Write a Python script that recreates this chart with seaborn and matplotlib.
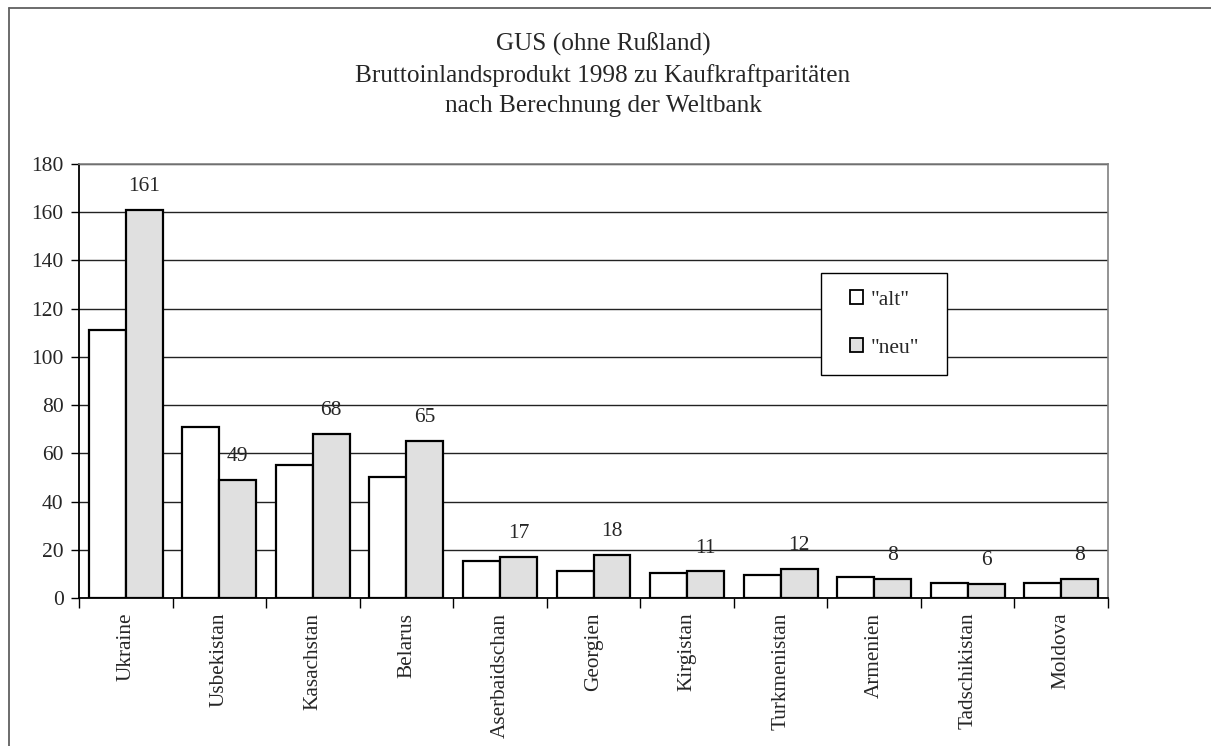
import matplotlib
matplotlib.use("Agg")
import matplotlib.pyplot as plt
import seaborn as sns
import pandas as pd
import numpy as np
from matplotlib.lines import Line2D
from matplotlib.patches import Patch, Rectangle

countries = ["Ukraine", "Usbekistan", "Kasachstan", "Belarus", "Aserbaidschan",
             "Georgien", "Kirgistan", "Turkmenistan", "Armenien", "Tadschikistan", "Moldova"]
alt = [111, 71, 55, 50, 15.3, 11.3, 10.4, 9.5, 8.7, 6.4, 6.4]
neu = [161, 49, 68, 65, 17, 18, 11, 12, 8, 6, 8]
neu_labels = ["161", "49", "68", "65", "17", "18", "11", "12", "8", "6", "8"]
series = ['"alt"', '"neu"']
yticks = [0, 20, 40, 60, 80, 100, 120, 140, 160, 180]
title = "GUS (ohne Rußland)\nBruttoinlandsprodukt 1998 zu Kaufkraftparitäten\nnach Berechnung der Weltbank"

df = pd.DataFrame({
    "Land": countries * 2,
    "Serie": [series[0]] * len(countries) + [series[1]] * len(countries),
    "Wert": alt + neu,
})

sns.set_style("white")
plt.rcParams["font.family"] = ["Liberation Serif", "DejaVu Serif"]

fig = plt.figure(figsize=(12.11, 7.46), dpi=100)
ax = fig.add_axes([79 / 1211, 1 - 598 / 746, (1108 - 79) / 1211, (598 - 164) / 746])

sns.barplot(data=df, x="Land", y="Wert", hue="Serie", order=countries, hue_order=series,
            palette=["white", "#e0e0e0"], edgecolor="black", linewidth=1.6,
            width=0.79, ax=ax, legend=False, saturation=1, zorder=3)

ax.set_ylim(0, 180)
ax.set_xlim(-0.5, len(countries) - 0.5)
ax.set_yticks(yticks)
ax.set_yticklabels([str(v) for v in yticks], fontsize=15.5)
ax.tick_params(axis="y", length=6, width=1, color="black", direction="out", pad=5, left=True)
ax.set_xticks(range(len(countries)))
ax.set_xticklabels(countries, rotation=90, fontsize=15.3)
ax.tick_params(axis="x", which="major", length=0, pad=10.5)
ax.set_xticks(np.arange(-0.5, len(countries), 1), minor=True)
ax.tick_params(axis="x", which="minor", length=7, width=1, color="black", direction="out", bottom=True)
ax.set_xlabel("")
ax.set_ylabel("")

ax.yaxis.grid(True, color="#222222", linewidth=1.0, zorder=0)
ax.set_axisbelow(True)
for s in ["top", "right"]:
    ax.spines[s].set_visible(True)
    ax.spines[s].set_color("#808080")
    ax.spines[s].set_linewidth(1.2)
ax.spines["left"].set_color("black")
ax.spines["left"].set_linewidth(1.3)
ax.spines["bottom"].set_color("black")
ax.spines["bottom"].set_linewidth(1.3)

# value labels above "neu" bars
neu_container = ax.containers[1]
ax.bar_label(neu_container, labels=neu_labels, padding=10, fontsize=15.5)

# legend frame
fig.add_artist(Rectangle((821 / 1211, 1 - 375 / 746), 126 / 1211, 102 / 746,
                         transform=fig.transFigure, facecolor="white", edgecolor="black",
                         linewidth=1.0, zorder=4))
handles = [Patch(facecolor="white", edgecolor="black", linewidth=1.3),
           Patch(facecolor="#e0e0e0", edgecolor="black", linewidth=1.3)]
leg = fig.legend(handles, series, loc="center left",
                 bbox_to_anchor=(850 / 1211, 1 - 324 / 746), fontsize=15.5,
                 frameon=False, handlelength=0.62, handleheight=0.62, handletextpad=0.35,
                 labelspacing=1.3, borderpad=0, borderaxespad=0)
leg.set_zorder(5)

# title
fig.text(603 / 1211, 1 - 75 / 746, title, ha="center", va="center", fontsize=18.2,
         linespacing=1.45)

# outer frame (left and top)
fig.add_artist(Line2D([9 / 1211, 9 / 1211], [0, 1 - 8 / 746], transform=fig.transFigure,
                      color="#606060", linewidth=1.3))
fig.add_artist(Line2D([9 / 1211, 1], [1 - 8 / 746, 1 - 8 / 746], transform=fig.transFigure,
                      color="#606060", linewidth=1.3))

fig.savefig("out.png", dpi=100)
